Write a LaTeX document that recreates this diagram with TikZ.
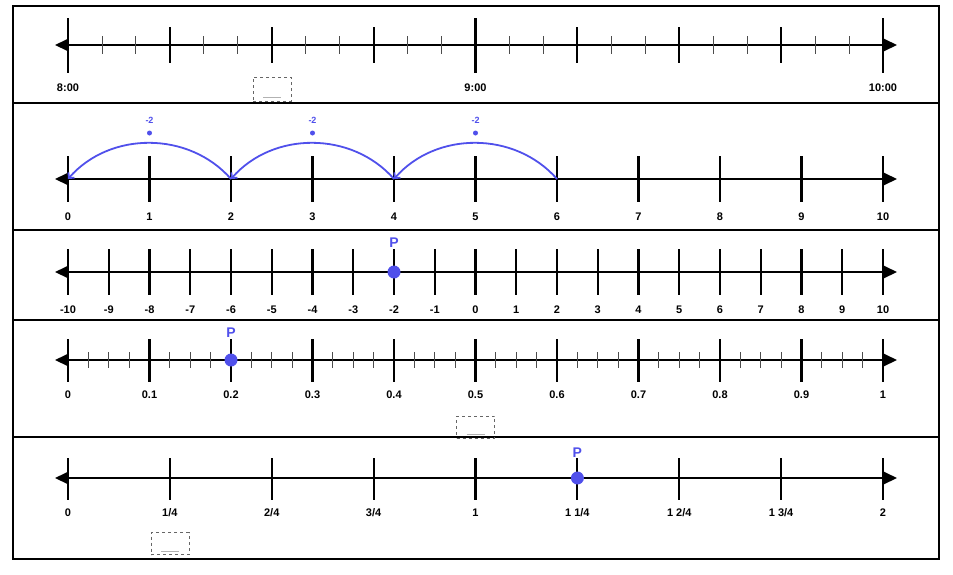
\documentclass[tikz,border=0pt]{standalone}
\usepackage{fontspec}
\setmainfont{Liberation Sans}
\usetikzlibrary{arrows.meta}
\definecolor{pblue}{RGB}{80,80,235}
\begin{document}
\begin{tikzpicture}[x=1pt,y=-1pt,
  axis/.style={line width=2pt,{Triangle[length=13pt,width=12pt]}-{Triangle[length=13pt,width=12pt]}},
  bigtick/.style={line width=2.2pt},
  midtick/.style={line width=1.8pt},
  smalltick/.style={line width=0.9pt,black!70},
  lbl/.style={font=\bfseries\fontsize{11}{13}\selectfont,inner sep=0pt},
  jlbl/.style={font=\bfseries\fontsize{9}{11}\selectfont,text=pblue,inner sep=0pt},
  plbl/.style={font=\bfseries\fontsize{14}{16}\selectfont,text=pblue,inner sep=0pt},
  pdot/.style={circle,fill=pblue,minimum size=13pt,inner sep=0pt},
  jdot/.style={circle,fill=pblue,minimum size=5pt,inner sep=0pt},
  jump/.style={pblue,line width=1.8pt,-{Straight Barb[length=4pt,width=8pt]}},
  ansbox/.style={draw=black!60,dashed,line width=0.8pt,minimum width=38pt,minimum height=22pt,inner sep=0pt},
  blank/.style={draw=black!30,line width=0.8pt},
  panel/.style={draw,line width=1.6pt}]
\useasboundingbox (0,0) rectangle (953,574);
% frame and panel separators
\draw[panel] (13,6) rectangle (939,559);
\foreach \yy in {103,230,320,437}{\draw[panel] (13,\yy) -- (939,\yy);}

% ---------- Panel 1: time line ----------
\coordinate (a1L) at (55,45);
\coordinate (a1R) at (897,45);
\draw[axis] (a1L) -- (a1R);
\foreach \i in {0,...,24}{
  \pgfmathsetmacro{\xx}{68+\i*33.958}
  \pgfmathtruncatemacro{\mA}{mod(\i,12)}
  \pgfmathtruncatemacro{\mB}{mod(\i,3)}
  \ifnum\mA=0
    \draw[bigtick] (\xx,18) -- (\xx,73);
  \else\ifnum\mB=0
    \draw[midtick] (\xx,27) -- (\xx,63);
  \else
    \draw[smalltick] (\xx,36) -- (\xx,54);
  \fi\fi
}
\node[lbl] (t1a) at (68,88) {8:00};
\node[lbl] (t1b) at (475.5,88) {9:00};
\node[lbl] (t1c) at (883,88) {10:00};
\node[ansbox,minimum height=24pt] (box1) at (272,89) {};
\draw[blank] ([xshift=-9pt,yshift=4pt]box1.south) -- ([xshift=9pt,yshift=4pt]box1.south);

% ---------- Panel 2: jumps ----------
\coordinate (a2L) at (55,179);
\coordinate (a2R) at (897,179);
\draw[axis] (a2L) -- (a2R);
\foreach \i in {0,...,10}{
  \pgfmathsetmacro{\xx}{68+\i*81.5}
  \coordinate (p2-\i) at (\xx,179);
  \draw[bigtick] (\xx,156) -- (\xx,202);
  \node[lbl] (l2-\i) at (\xx,217) {\i};
}
\draw[jump] (p2-6) .. controls ([xshift=-42pt,yshift=48pt]p2-6) and ([xshift=42pt,yshift=48pt]p2-4) .. (p2-4);
\draw[jump] (p2-4) .. controls ([xshift=-42pt,yshift=48pt]p2-4) and ([xshift=42pt,yshift=48pt]p2-2) .. (p2-2);
\draw[jump] (p2-2) .. controls ([xshift=-42pt,yshift=48pt]p2-2) and ([xshift=42pt,yshift=48pt]p2-0) .. (p2-0);
\foreach \k in {1,3,5}{
  \pgfmathsetmacro{\xx}{68+\k*81.5}
  \node[jdot] (d2-\k) at (\xx,133) {};
  \node[jlbl] (j2-\k) at (\xx,120) {-2};
}

% ---------- Panel 3: integers ----------
\coordinate (a3L) at (55,272);
\coordinate (a3R) at (897,272);
\draw[axis] (a3L) -- (a3R);
\foreach \i in {0,...,20}{
  \pgfmathsetmacro{\xx}{68+\i*40.75}
  \pgfmathtruncatemacro{\vv}{\i-10}
  \draw[bigtick] (\xx,249) -- (\xx,295);
  \node[lbl] (l3-\i) at (\xx,310) {\vv};
}
\node[pdot] (P3) at (394,272) {};
\node[plbl] (P3l) at (394,243) {P};

% ---------- Panel 4: decimals ----------
\coordinate (a4L) at (55,360);
\coordinate (a4R) at (897,360);
\draw[axis] (a4L) -- (a4R);
\foreach \i in {0,...,40}{
  \pgfmathsetmacro{\xx}{68+\i*20.375}
  \pgfmathtruncatemacro{\mA}{mod(\i,4)}
  \ifnum\mA=0
    \draw[bigtick] (\xx,339) -- (\xx,382);
  \else
    \draw[smalltick] (\xx,352) -- (\xx,368);
  \fi
}
\foreach \i/\t in {0/0,1/0.1,2/0.2,3/0.3,4/0.4,5/0.5,6/0.6,7/0.7,8/0.8,9/0.9,10/1}{
  \pgfmathsetmacro{\xx}{68+\i*81.5}
  \node[lbl] (l4-\i) at (\xx,395) {\t};
}
\node[pdot] (P4) at (231,360) {};
\node[plbl] (P4l) at (231,333) {P};
\node[ansbox] (box4) at (475.5,427) {};
\draw[blank] ([xshift=-9pt,yshift=4pt]box4.south) -- ([xshift=9pt,yshift=4pt]box4.south);

% ---------- Panel 5: quarters ----------
\coordinate (a5L) at (55,478);
\coordinate (a5R) at (897,478);
\draw[axis] (a5L) -- (a5R);
\foreach \i/\t in {0/{0},1/{1/4},2/{2/4},3/{3/4},4/{1},5/{1 1/4},6/{1 2/4},7/{1 3/4},8/{2}}{
  \pgfmathsetmacro{\xx}{68+\i*101.875}
  \draw[bigtick] (\xx,458) -- (\xx,500);
  \node[lbl] (l5-\i) at (\xx,513) {\t};
}
\node[pdot] (P5) at (577.4,478) {};
\node[plbl] (P5l) at (577.4,453) {P};
\node[ansbox] (box5) at (170,543.5) {};
\draw[blank] ([xshift=-9pt,yshift=4pt]box5.south) -- ([xshift=9pt,yshift=4pt]box5.south);
\end{tikzpicture}
\end{document}
